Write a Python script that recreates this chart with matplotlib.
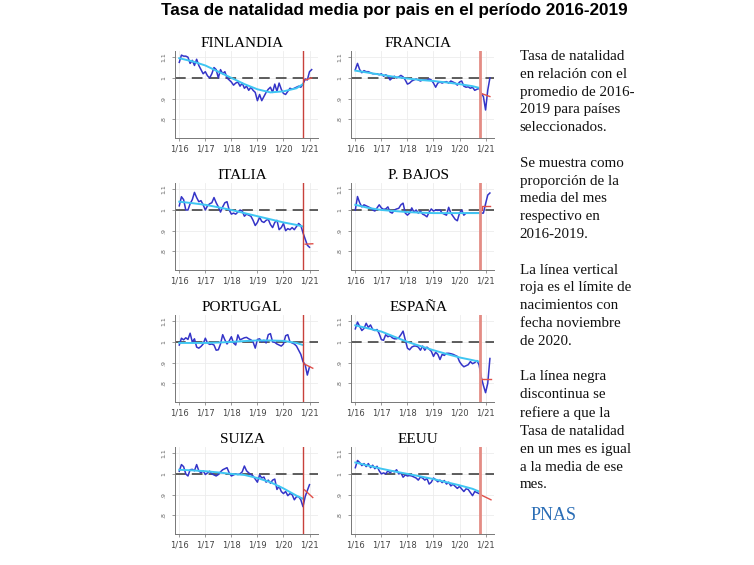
import matplotlib
matplotlib.use('Agg')
import matplotlib.pyplot as plt
import matplotlib.transforms as mtransforms

# month index: 0 = Jan 2016
countries = ['FINLANDIA', 'FRANCIA', 'ITALIA', 'P. BAJOS', 'PORTUGAL', 'ESPAÑA', 'SUIZA', 'EEUU']

finlandia = [1.075, 1.11, 1.105, 1.105, 1.10, 1.07, 1.085, 1.06, 1.09, 1.06, 1.04, 1.02,
             1.03, 1.01, 1.00, 1.02, 1.05, 1.04, 1.00, 1.04, 1.02, 1.03, 1.00, 0.99,
             0.98, 0.965, 0.975, 0.98, 0.96, 0.975, 0.95, 0.96, 0.94, 0.955, 0.94, 0.93,
             0.89, 0.92, 0.89, 0.91, 0.93, 0.945, 0.955, 0.93, 0.97, 0.935, 0.975, 0.945,
             0.925, 0.92, 0.935, 0.95, 0.945, 0.95, 0.955, 0.96, 0.955, 0.97, 0.995, 0.99,
             1.03, 1.04]
francia = [1.04, 1.07, 1.04, 1.025, 1.035, 1.03, 1.03, 1.025, 1.02, 1.02, 1.02, 1.015,
           1.02, 1.008, 1.015, 1.008, 0.99, 1.00, 1.008, 1.00, 1.005, 1.012, 1.005, 0.99,
           0.97, 0.975, 0.985, 0.99, 0.995, 0.99, 0.985, 0.99, 0.99, 0.99, 0.995, 0.99,
           0.975, 0.955, 0.975, 0.98, 0.975, 0.98, 0.982, 0.975, 0.985, 0.98, 0.975, 0.965,
           0.98, 0.985, 0.96, 0.955, 0.957, 0.95, 0.955, 0.94, 0.945, 0.95, 0.925, 0.91,
           0.845, 0.94, 1.0]
italia = [1.02, 1.064, 1.05, 1.0, 1.0, 1.03, 1.05, 1.085, 1.06, 1.04, 1.045, 1.025,
          1.0, 1.02, 1.03, 1.035, 1.06, 1.035, 1.015, 0.99, 1.015, 1.035, 1.04, 1.0,
          0.98, 0.985, 0.98, 0.99, 1.0, 0.995, 0.97, 0.98, 0.975, 0.97, 0.95, 0.925,
          0.94, 0.965, 0.945, 0.94, 0.95, 0.955, 0.93, 0.915, 0.94, 0.95, 0.905, 0.915,
          0.935, 0.9, 0.91, 0.905, 0.915, 0.905, 0.92, 0.935, 0.925, 0.89, 0.86, 0.83,
          0.82]
p_bajos = [1.0, 1.065, 1.035, 1.015, 1.025, 1.02, 1.015, 1.01, 1.0, 0.995, 1.01, 1.025,
           1.01, 1.003, 1.005, 1.015, 0.99, 0.985, 1.0, 1.005, 1.008, 1.025, 1.033, 0.985,
           0.975, 0.985, 1.01, 0.99, 1.0, 0.985, 0.995, 0.98, 0.975, 0.967, 0.99, 1.005,
           0.995, 1.0, 0.998, 1.0, 0.985, 0.98, 0.975, 1.013, 0.985, 0.97, 0.955, 0.948,
           0.985, 1.0, 0.975, 0.985, 0.985, 0.985, 0.985, 0.985, 0.985, 0.985, 0.985, 0.985,
           1.03, 1.072, 1.082]
portugal = [0.985, 1.018, 1.01, 1.02, 1.012, 1.042, 1.0, 1.015, 0.975, 0.97, 0.978, 0.99,
            1.018, 0.995, 0.988, 0.99, 0.985, 0.96, 0.962, 0.99, 1.035, 1.01, 0.99, 1.005,
            1.025, 0.995, 0.985, 1.034, 1.01, 1.015, 1.02, 1.022, 1.015, 1.01, 1.0, 0.97,
            1.012, 1.015, 1.0, 1.008, 0.995, 1.035, 1.04, 1.0, 0.998, 0.99, 0.985, 0.98,
            0.99, 1.03, 1.035, 1.0, 0.995, 0.99, 0.98, 0.96, 0.94, 0.905, 0.89, 0.84,
            0.88]
espana = [1.063, 1.096, 1.075, 1.055, 1.065, 1.09, 1.07, 1.082, 1.06, 1.055, 1.06, 1.04,
          1.011, 1.008, 1.035, 1.025, 1.03, 1.02, 1.015, 1.015, 1.02, 1.035, 1.052, 1.01,
          0.97, 0.962, 0.975, 0.98, 0.98, 0.975, 0.96, 0.98, 0.96, 0.975, 0.965, 0.955,
          0.93, 0.95, 0.94, 0.915, 0.94, 0.935, 0.945, 0.945, 0.943, 0.94, 0.935, 0.93,
          0.905, 0.89, 0.88, 0.885, 0.89, 0.905, 0.895, 0.9, 0.91, 0.89, 0.83, 0.79,
          0.755, 0.80, 0.92]
suiza = [1.013, 1.045, 1.035, 1.0, 0.99, 1.02, 1.022, 1.015, 1.045, 1.015, 1.005, 1.015,
         0.997, 1.005, 1.013, 1.0, 0.995, 0.99, 0.997, 1.01, 1.02, 1.025, 1.03, 1.005,
         0.99, 0.995, 1.0, 0.997, 1.0, 1.01, 1.038, 1.015, 1.005, 0.997, 0.99, 0.975,
         0.96, 0.995, 0.98, 0.985, 0.96, 0.97, 0.955, 0.97, 0.975, 0.925, 0.94, 0.915,
         0.905, 0.915, 0.895, 0.905, 0.9, 0.875, 0.89, 0.89, 0.875, 0.842, 0.89, 0.92,
         0.948]
eeuu = [1.03, 1.065, 1.055, 1.04, 1.05, 1.035, 1.05, 1.03, 1.042, 1.025, 1.037, 1.015,
        1.0, 1.005, 1.0, 1.015, 1.005, 1.015, 1.01, 1.02, 1.0, 1.005, 0.984, 0.995,
        0.99, 0.992, 0.99, 0.985, 0.98, 0.97, 0.985, 0.98, 0.97, 0.978, 0.951, 0.96,
        0.98, 0.972, 0.962, 0.97, 0.958, 0.968, 0.951, 0.96, 0.942, 0.95, 0.94, 0.93,
        0.94, 0.927, 0.915, 0.928, 0.925, 0.91, 0.895, 0.915, 0.91, 0.905]

# smoothed trend (light blue), month index and value
trend_x = [0, 6, 12, 18, 24, 30, 36, 42, 48, 54, 57]
trend = {
    'FINLANDIA': [1.095, 1.08, 1.06, 1.03, 1.0, 0.97, 0.945, 0.93, 0.935, 0.95, 0.97],
    'FRANCIA':   [1.035, 1.025, 1.015, 1.005, 0.997, 0.99, 0.985, 0.978, 0.97, 0.96, 0.952],
    'ITALIA':    [1.04, 1.033, 1.025, 1.013, 1.0, 0.985, 0.97, 0.955, 0.94, 0.928, 0.92],
    'P. BAJOS':  [1.025, 1.01, 1.0, 0.995, 0.99, 0.987, 0.985, 0.985, 0.985, 0.985, 0.985],
    'PORTUGAL':  [0.995, 0.995, 0.995, 0.997, 1.0, 1.004, 1.007, 1.007, 1.005, 0.995, 0.985],
    'ESPAÑA':    [1.08, 1.065, 1.05, 1.025, 1.0, 0.98, 0.96, 0.942, 0.925, 0.912, 0.905],
    'SUIZA':     [1.02, 1.017, 1.013, 1.007, 1.0, 0.995, 0.98, 0.96, 0.93, 0.895, 0.88],
    'EEUU':      [1.055, 1.04, 1.025, 1.012, 1.0, 0.988, 0.975, 0.96, 0.945, 0.928, 0.915],
}

# red forecast after the cut-off
red_x = {
    'FINLANDIA': [58, 61], 'FRANCIA': [58, 62], 'ITALIA': [58, 61.5],
    'P. BAJOS': [57.5, 58.3, 58.3, 62], 'PORTUGAL': [57.7, 61.5],
    'ESPAÑA': [58, 62.5], 'SUIZA': [57.7, 61.5], 'EEUU': [57.6, 62.5],
}
red_y = {
    'FINLANDIA': [0.99, 1.0], 'FRANCIA': [0.925, 0.91], 'ITALIA': [0.835, 0.837],
    'P. BAJOS': [1.0, 1.0, 1.02, 1.02], 'PORTUGAL': [0.893, 0.873],
    'ESPAÑA': [0.82, 0.82], 'SUIZA': [0.923, 0.886], 'EEUU': [0.9, 0.875],
}
cutoff = [57.0, 57.4, 57.0, 57.4, 57.0, 57.5, 57.0, 57.5]

series = [finlandia, francia, italia, p_bajos, portugal, espana, suiza, eeuu]
xtick_pos = [0, 12, 24, 36, 48, 60]
xtick_labels = ['1/16', '1/17', '1/18', '1/19', '1/20', '1/21']
ytick_pos = [0.8, 0.9, 1.0, 1.1]
ytick_labels = ['.8', '.9', '1', '1.1']

fig = plt.figure(figsize=(7.54, 5.65), dpi=100)
fig.text(0.5225, 0.981, 'Tasa de natalidad media por pais en el período 2016-2019',
         ha='center', va='center', fontsize=12.3, fontweight='bold',
         family='Liberation Sans')

lefts = [0.232, 0.4655]
bottoms = [0.7558, 0.522, 0.2885, 0.0549]

for i, name in enumerate(countries):
    row, col = divmod(i, 2)
    ax = fig.add_axes([lefts[col], bottoms[row], 0.19, 0.154])
    vals = series[i]
    ax.grid(True, color='#ececec', lw=0.6)
    ax.set_axisbelow(True)
    ax.axhline(1.0, color='#333333', lw=1.1, ls=(0, (7, 4)), zorder=2)
    ax.plot(range(len(vals)), vals, color='#3434c8', lw=1.1, zorder=3)
    ax.plot(trend_x, trend[name], color='#3fc6f2', lw=1.4, zorder=4)
    ax.plot(red_x[name], red_y[name], color='#e0504a', lw=1.0, zorder=5)
    if col == 0:
        ax.axvline(cutoff[i], color='#c8413b', lw=1.0, zorder=6)
    else:
        ax.axvline(cutoff[i], color='#e48c84', lw=2.0, zorder=6)
    ax.set_xlim(-2, 64)
    ax.set_ylim(0.71, 1.13)
    ax.set_xticks(xtick_pos)
    ax.set_xticklabels(xtick_labels, fontsize=6, color='#444444')
    ax.set_yticks(ytick_pos)
    ax.set_yticklabels(ytick_labels, fontsize=4.5, color='#666666', rotation=90,
                       va='center')
    ax.tick_params(length=2.5, width=0.6, color='#888888', pad=2)
    ax.tick_params(axis='y', pad=4)
    for s in ['top', 'right']:
        ax.spines[s].set_visible(False)
    for s in ['left', 'bottom']:
        ax.spines[s].set_color('#777777')
        ax.spines[s].set_linewidth(0.7)
    trans = mtransforms.blended_transform_factory(ax.transData, ax.transAxes)
    ax.text(29, 1.085, name, transform=trans, ha='center', va='center',
            fontsize=11, family='Liberation Serif', clip_on=False)

side_text = ('Tasa de natalidad\nen relación con el\npromedio de 2016-\n2019 para países\n'
             'seleccionados.\n\nSe muestra como\nproporción de la\nmedia del mes\n'
             'respectivo en\n2016-2019.\n\nLa línea vertical\nroja es el límite de\n'
             'nacimientos con\nfecha noviembre\nde 2020.\n\nLa línea negra\n'
             'discontinua se\nrefiere a que la\nTasa de natalidad\nen un mes es igual\n'
             'a la media de ese\nmes.')
fig.text(0.689, 1 - 50 / 565, side_text, ha='left', va='top', fontsize=10.8,
         family='Liberation Serif', linespacing=1.48, color='#111111')
fig.text(0.703, 1 - 515 / 565, 'PNAS', ha='left', va='center', fontsize=13,
         family='Liberation Serif', color='#2a6db5')

plt.savefig('out.png', dpi=100)
